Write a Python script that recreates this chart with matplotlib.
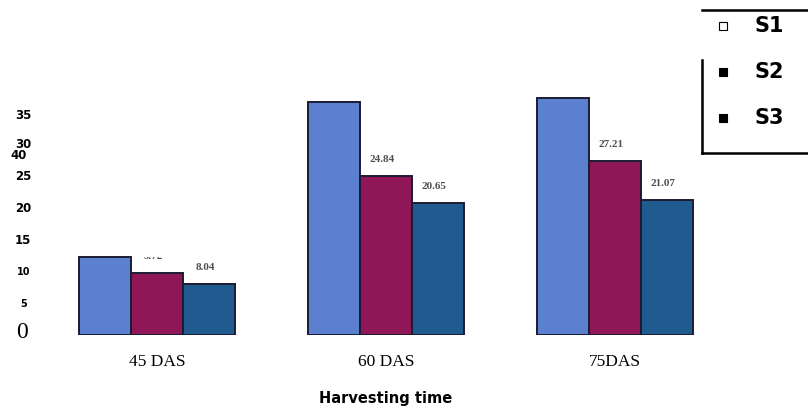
import matplotlib
matplotlib.use("Agg")
import matplotlib.pyplot as plt
import matplotlib.transforms as mtransforms
from matplotlib.lines import Line2D
from matplotlib.patches import Rectangle
import numpy as np

# ---- data ----
categories = ['45 DAS', '60 DAS', '75DAS']
series_names = ['S1', 'S2', 'S3']
s1 = [12.2, 36.4, 37.0]
s2 = [9.72, 24.84, 27.21]
s3 = [8.04, 20.65, 21.07]
s2_labels = ['9.72', '24.84', '27.21']
s3_labels = ['8.04', '20.65', '21.07']
yticks = [0, 5, 10, 15, 20, 25, 30, 35]
ytick_labels = ['0', '5', '10', '15', '20', '25', '30', '35']
stray_label = '40'
stray_value = 28.0

colors = ['#5b80cf', '#8f1757', '#1f5b8f']
edge = '#1b1b33'

W, H = 808, 411
dpi = 100
fig = plt.figure(figsize=(W / dpi, H / dpi), dpi=dpi)

# axes placed in pixel coordinates
ax_left, ax_right = 40, 700
ax_bottom_px = 76          # from bottom of figure
ax = fig.add_axes([ax_left / W, ax_bottom_px / H, (ax_right - ax_left) / W, (H - ax_bottom_px) / H])

px_per_group = 229.0
px_per_unit = 6.4
x0 = (ax_left - 157) / px_per_group
x1 = (ax_right - 157) / px_per_group
ax.set_xlim(x0, x1)
ax.set_ylim(0, (H - ax_bottom_px) / px_per_unit)

x = np.arange(len(categories))
bw = 52 / px_per_group
for i, (vals, c) in enumerate(zip([s1, s2, s3], colors)):
    ax.bar(x + (i - 1) * bw, vals, width=bw, color=c, edgecolor=edge, linewidth=1.4, zorder=2)

label_kw = dict(ha='center', va='bottom', fontsize=8, fontweight='bold',
                family='Liberation Serif', color='#505050')
for j in range(len(categories)):
    t = ax.annotate(s2_labels[j], (x[j], s2[j]), xytext=(-4, 12), textcoords='offset pixels', **label_kw)
    if j == 0:
        clip = Rectangle((x[j] - bw, 0), 2 * bw, s1[0], transform=ax.transData)
        t.set_clip_path(clip)
    ax.annotate(s3_labels[j], (x[j] + bw, s3[j]), xytext=(-4, 12), textcoords='offset pixels', **label_kw)

for sp in ax.spines.values():
    sp.set_visible(False)

ax.set_xticks(x, categories)
ax.tick_params(axis='x', length=0, pad=14)
for lab in ax.get_xticklabels():
    lab.set_family('Liberation Serif')
    lab.set_fontsize(12.5)

ax.set_yticks(yticks, ytick_labels)
ax.tick_params(axis='y', length=0, pad=12)
for lab in ax.get_yticklabels():
    lab.set_ha('center')
    txt = lab.get_text()
    if txt == '0':
        lab.set_family('Liberation Serif')
        lab.set_fontsize(17)
        lab.set_transform(lab.get_transform() + mtransforms.ScaledTranslation(-1 / dpi, 5 / dpi, fig.dpi_scale_trans))
    elif txt in ('5', '10'):
        lab.set_fontweight('bold')
        lab.set_fontsize(7)
    else:
        lab.set_fontweight('bold')
        lab.set_fontsize(8.5)
        if txt == '35':
            lab.set_transform(lab.get_transform() + mtransforms.ScaledTranslation(0, -3 / dpi, fig.dpi_scale_trans))

trans = mtransforms.blended_transform_factory(fig.transFigure, ax.transData)
ax.text(18.5 / W, stray_value, stray_label, transform=trans, ha='center', va='center',
        fontsize=8.5, fontweight='bold')

ax.set_xlabel('Harvesting time', fontsize=10.5, fontweight='bold', family='DejaVu Sans')
ax.xaxis.set_label_coords((386 - ax_left) / (ax_right - ax_left), -63 / (H - ax_bottom_px))
ax.xaxis.label.set_va('center')

# ---- legend (partially boxed) ----
def fy(ypx):
    return 1 - ypx / H

fig.add_artist(Line2D([702 / W, 1], [fy(10), fy(10)], color='black', lw=1.8, transform=fig.transFigure))
fig.add_artist(Line2D([702 / W, 702 / W], [fy(60), fy(153)], color='black', lw=1.8, transform=fig.transFigure))
fig.add_artist(Line2D([702 / W, 1], [fy(153), fy(153)], color='black', lw=1.8, transform=fig.transFigure))

leg_y = [26, 72, 118]
for k, name in enumerate(series_names):
    filled = k > 0
    fig.add_artist(Line2D([723 / W], [fy(leg_y[k])], marker='s', markersize=5.5,
                          markerfacecolor='black' if filled else 'white',
                          markeredgecolor='black', markeredgewidth=0.8, linestyle='none',
                          transform=fig.transFigure))
    fig.text(754 / W, fy(leg_y[k]), name, ha='left', va='center', fontsize=15,
             fontweight='heavy', family='DejaVu Sans')

fig.savefig('out.png', dpi=dpi)
